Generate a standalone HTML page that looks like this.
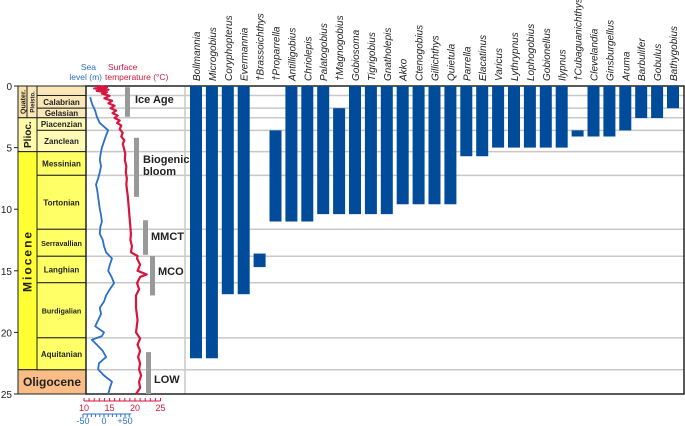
<!DOCTYPE html>
<html><head><meta charset="utf-8"><style>
html,body{margin:0;padding:0;background:#fff;width:685px;height:426px;overflow:hidden}
svg{display:block;font-family:"Liberation Sans",Arial,sans-serif}
</style></head><body>
<svg id="c" width="685" height="426" viewBox="0 0 685 426"></svg>
<script>
const taxa=["Bollmannia","Microgobius","Coryphopterus","Evermannia","†Brassoichthys","†Proparrella","Antilligobius","Chriolepis","Palatogobius","†Magnogobius","Gobiosoma","Tigrigobius","Gnatholepis","Akko","Ctenogobius","Gillichthys","Quietula","Parrella","Elacatinus","Varicus","Lythrypnus","Lophogobius","Gobionellus","Ilypnus","†Cubaguanichthys","Clevelandia","Ginsburgellus","Aruma","Barbulifer","Gobulus","Bathygobius"];
const rangeTop=[0,0,0,0,13.6,3.6,0,0,0,1.8,0,0,0,0,0,0,0,0,0,0,0,0,0,0,3.6,0,0,0,0,0,0];
const rangeBottom=[22.1,22.1,16.9,16.9,14.7,11,11,11,10.4,10.4,10.4,10.4,10.4,9.6,9.6,9.6,9.6,5.7,5.7,5.0,5.0,5.0,5.0,5.0,4.1,4.1,4.1,3.6,2.6,2.6,1.8];
const stageNames=["","Calabrian","Gelasian","Piacenzian","Zanclean","Messinian","Tortonian","Serravallian","Langhian","Burdigalian","Aquitanian"];
const stageTop=[0,0.77,1.8,2.58,3.6,5.33,7.25,11.63,13.82,15.97,20.44];
const stageBottom=[0.77,1.8,2.58,3.6,5.33,7.25,11.63,13.82,15.97,20.44,23.03];
const seaAge=[0.9,1.5,2,2.5,3,3.3,3.6,4,4.5,5,5.5,6,6.5,7,7.5,8,8.5,9,9.5,10,10.5,11,11.5,12,12.5,13,13.5,14,14.5,15,15.5,16,16.5,17,17.5,18,18.5,19,19.5,20,20.3,20.6,21,21.5,22,22.5,23,23.5,24,24.5,25];
const seaLevel=[-33,-28,-21,-17,-10,0,10,5,0,-5,-8,-10,-7,-10,-14,-19,-16,-14,-12,-10,-7,-5,-9,-10,-3,0,5,19,14,10,18,24,14,5,0,-10,-7,-14,-21,0,-5,-29,-17,-3,5,-12,-14,0,19,14,10];
const tempAge=[0,0.1,0.2,0.3,0.4,0.5,0.6,0.8,1.0,1.2,1.4,1.6,1.8,2.0,2.2,2.4,2.6,2.8,3.0,3.2,3.5,3.8,4.1,4.4,4.7,5,5.5,6,6.5,7,7.5,8,9,10,11,12,12.5,13,13.5,13.8,14,14.5,15,15.3,15.5,16,16.5,17,18,19,20,20.5,21,21.5,22,22.5,23,23.5,24,24.5,25];
const tempVal=[12.5,14.5,12,14.8,12.5,14.5,13.5,15,14,15.5,14.8,16,15.2,16.3,15.6,16.6,16,17,16.5,17.3,17,17.6,17.3,17.9,17.6,17.8,18.1,18,18.3,18.2,18.4,18.3,18.6,18.8,19,19.2,19.1,19.4,19.2,20.5,20.4,21,20.5,22.3,21,20.4,20.8,20.2,20.2,20.5,20.2,21,20.5,21,20.6,21,20.8,21.2,20.8,21,20.2];
const events=["Ice Age","Biogenic bloom","MMCT","MCO","LOW"];
const eventTop=[0.1,4.2,10.9,13.8,21.6];
const eventBottom=[2.5,9.0,13.7,17.0,25];
const ageTicks=[0,5,10,15,20,25];
const tempTicks=[10,15,20,25];
const seaTicks=[-50,0,50];
const seaTickLabels=["-50","0","+50"];

const NS="http://www.w3.org/2000/svg",svg=document.getElementById('c');
const Y0=86,Y1=394;
const y=a=>Y0+a*(Y1-Y0)/25;
const tx=t=>84+(t-10)*5.1;
const sx=m=>104+m*0.42;
const bx=i=>196+i*15.9;
function mk(tag,at,parent){const e=document.createElementNS(NS,tag);for(const k in at)e.setAttribute(k,at[k]);(parent||svg).appendChild(e);return e;}
function txt(s,at){const e=mk('text',at);e.textContent=s;return e;}

const epochs=[["Quater.",0,2.58,18,27,"#fbe2a8"],["Pleisto.",0,2.58,27,37,"#fbe8b8"],["Plioc.",2.58,5.33,18,37,"#fffaa8"],["Miocene",5.33,23.03,18,37,"#ffff33"],["Oligocene",23.03,25,18,86,"#fbbd86"]];
epochs.forEach(e=>{
 const r=mk('rect',{x:e[3],y:y(e[1]),width:e[4]-e[3],height:y(e[2])-y(e[1]),fill:e[5],stroke:"#222","stroke-width":1});
 
 
});
stageNames.forEach((n,i)=>{
 const top=stageTop[i],bot=stageBottom[i];
 const fill=bot<=2.6?"#fbe8b8":(bot<=5.4?"#fffbb4":"#ffff66");
 const r=mk('rect',{x:37,y:y(top),width:49,height:y(bot)-y(top),fill:fill,stroke:"#222","stroke-width":1});
 
 
 if(n){const t=txt(n,{x:61.5,y:(y(top)+y(bot))/2+3,"text-anchor":"middle","font-size":n.length>10?7.2:8,"font-weight":"bold",fill:"#222"});
 }
});
function vtext(s,cx,cy,fs,name){const t=txt(s,{x:0,y:0,transform:`translate(${cx},${cy}) rotate(-90)`,"text-anchor":"middle","font-size":fs,"font-weight":"bold",fill:"#222","letter-spacing":name==='miocene'?2:0});}
vtext("Quater.",25.5,y(1.29),7,'quater');vtext("Pleisto.",34.5,y(1.29),6,'pleisto');
vtext("Plioc.",31,y(3.95),10,'plioc');vtext("Miocene",31.5,y(14.2),12,'miocene');
{const t=txt("Oligocene",{x:52,y:y(24)+4.5,"text-anchor":"middle","font-size":12,"font-weight":"bold",fill:"#222"});}

stageBottom.forEach(b=>{const l=mk('line',{x1:86,x2:684,y1:y(b),y2:y(b),stroke:"#c8c8c8","stroke-width":1.5});});
{const l=mk('line',{x1:185,x2:185,y1:Y0,y2:Y1,stroke:"#c8c8c8","stroke-width":1.5});}
{const f=mk('rect',{x:86,y:Y0,width:598,height:Y1-Y0,fill:"none",stroke:"#222","stroke-width":1.5});}

ageTicks.forEach(a=>{const t=txt(String(a),{x:12,y:y(a)+4,"text-anchor":"end","font-size":10,fill:"#222"});
 const l=mk('line',{x1:14,x2:18,y1:y(a),y2:y(a),stroke:"#222"});});

const evLabelX=[135,143,151,158,154];
events.forEach((n,i)=>{
 const bxp=[125,134,143,150,146][i];
 const r=mk('rect',{x:bxp,y:y(eventTop[i]),width:5,height:y(eventBottom[i])-y(eventTop[i]),fill:"#999"});
 
 const my=[103,0,240,275,383][i];
 if(n==="Biogenic bloom"){
  const t1=txt("Biogenic",{x:143,y:163,"font-size":11,"font-weight":"bold",fill:"#222"});
  const t2=txt("bloom",{x:143,y:175,"font-size":11,"font-weight":"bold",fill:"#222"});
 } else {const t=txt(n,{x:evLabelX[i],y:my,"font-size":11,"font-weight":"bold",fill:"#222"});}
});

{const p=mk('polyline',{points:tempAge.map((a,i)=>tx(tempVal[i])+","+y(a)).join(" "),fill:"none",stroke:"#d6163f","stroke-width":2.2,"stroke-linejoin":"round"});}
{const p=mk('polyline',{points:seaAge.map((a,i)=>sx(seaLevel[i])+","+y(a)).join(" "),fill:"none",stroke:"#2a6fc9","stroke-width":1.8,"stroke-linejoin":"round"});}

[["Sea",96,70,"#2a6fc9","end"],["level (m)",102,80,"#2a6fc9","end"],["Surface",108,70,"#d6163f","start"],["temperature (°C)",105,80,"#d6163f","start"]].forEach(h=>{const t=txt(h[0],{x:h[1],y:h[2],"text-anchor":h[4],"font-size":8.5,fill:h[3]});});

{const l=mk('line',{x1:tx(10),x2:tx(25),y1:401,y2:401,stroke:"#d6163f"});}
for(let t=10;t<=25;t++){const l=mk('line',{x1:tx(t),x2:tx(t),y1:398,y2:401,stroke:"#d6163f"});}
tempTicks.forEach(t=>{const e=txt(String(t),{x:tx(t),y:411,"text-anchor":"middle","font-size":9,fill:"#d6163f"});});
{const l=mk('line',{x1:sx(-50),x2:sx(65),y1:414,y2:414,stroke:"#2a6fc9"});}
for(let m=-50;m<=60;m+=10){const l=mk('line',{x1:sx(m),x2:sx(m),y1:414,y2:417,stroke:"#2a6fc9"});}
seaTicks.forEach((m,i)=>{const e=txt(seaTickLabels[i],{x:sx(m),y:424,"text-anchor":"middle","font-size":9,fill:"#2a6fc9"});});

taxa.forEach((n,i)=>{
 const r=mk('rect',{x:bx(i)-6,y:y(rangeTop[i]),width:12,height:y(rangeBottom[i])-y(rangeTop[i]),fill:"#004c9b"});
 
 
 const t=txt(n,{x:0,y:0,transform:`translate(${bx(i)+4},81) rotate(-90)`,"font-size":10,"font-style":"italic",fill:"#222"});
 
 
});
</script>
</body></html>
